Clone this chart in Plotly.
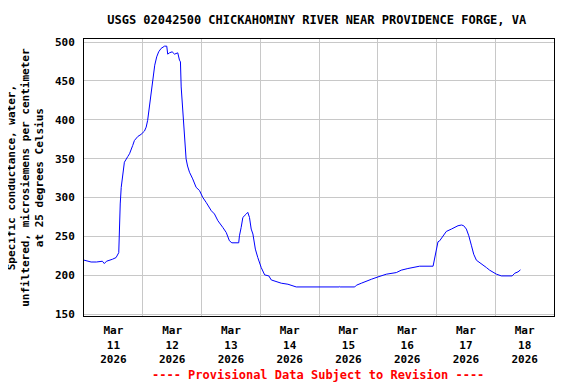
import pandas as pd
import plotly.graph_objects as go

start = pd.Timestamp("2026-03-11 00:00")

# hours since Mar 11 2026 00:00
hours = [0, 2.9, 5.1, 7.5, 8.3, 9.2, 11.6, 13.1, 14.2, 14.5, 14.8, 15.2, 15.6, 16.1, 16.5,
         17.9, 18.6, 19.9, 20.6, 22.0, 23.3, 24.7, 25.4, 26.0, 26.7, 27.1, 27.8, 28.4, 28.9,
         29.7, 30.5, 31.5, 32.9, 33.8, 34.2, 34.9, 36.0, 37.0, 37.7, 38.3, 39.0, 39.4, 39.7,
         40.1, 40.6, 41.2, 41.7, 42.3, 43.1, 44.4, 45.8, 47.2, 48.5, 49.9, 52.0, 53.3, 54.7,
         56.7, 58.1, 59.4, 60.4, 63.2, 63.5, 64.2, 64.9, 66.3, 66.9, 67.6, 68.3, 69.0, 70.0,
         71.0, 72.4, 73.8, 75.5, 76.5, 78.5, 80.6, 83.3, 85.3, 86.7, 104.4, 104.5, 104.7,
         110.6, 111.3, 113.3, 115.3, 117.4, 120.1, 123.5, 127.6, 129.6, 132.3, 134.4, 137.1,
         142.6, 143.3, 144.0, 144.6, 145.3, 146.7, 148.0, 150.1, 151.4, 152.8, 154.2, 155.1,
         156.2, 157.2, 158.3, 159.2, 160.3, 161.7, 163.0, 164.4, 165.7, 167.1, 168.5, 170.5,
         174.9, 176.0, 177.3, 178.3]

conductance = [219.4, 217, 217, 218, 215, 218, 220.5, 222.7, 229, 265.9, 291.7, 313, 324, 339, 345.4,
               352.8, 356.3, 367, 373.4, 378.6, 381.2, 385.5, 390.6, 399.3, 416.4, 429.4, 446.7, 459.6, 470.3,
               481, 487.5, 491.9, 494.8, 494.8, 484.5, 486.2, 487.5, 484.5, 485.4, 486.2, 476.8, 474.6, 442.3,
               425.1, 392.8, 369.2, 349.8, 340.5, 332.5, 324, 313.1, 308.9, 300.2, 293.7, 283, 278.8, 270.1,
               261.5, 255, 244.3, 241.7, 241.7, 250.7, 261.5, 274.4, 278.8, 280.9, 274.4, 259.4, 253, 233.6,
               222.7, 209.8, 200.4, 199.1, 193.9, 191.7, 189.7, 188.4, 186.2, 184.9, 184.9, 185.5, 184.9,
               184.9, 187.1, 189.7, 191.7, 194.8, 197.8, 201.3, 203.4, 206.5, 208.6, 209.8, 211.6,
               211.6, 222.7, 231.4, 243, 244.3, 250.7, 256.3, 259.4, 261.5, 263.7, 264.6, 263.7,
               259.4, 250.7, 237.8, 227, 219.3, 216.3, 212.9, 209.8, 206.5, 203.4, 201.3, 199.1,
               199.1, 202.6, 204.3, 206.9]

times = start + pd.to_timedelta(hours, unit="h")

title_text = "USGS 02042500 CHICKAHOMINY RIVER NEAR PROVIDENCE FORGE, VA"
y_title = "Specific conductance, water,<br>unfiltered, microsiemens per centimeter<br>at 25 degrees Celsius"
footer = "---- Provisional Data Subject to Revision ----"
y_ticks = [150, 200, 250, 300, 350, 400, 450, 500]

FONT = "DejaVu Sans Mono"

fig = go.Figure()
fig.add_trace(go.Scatter(x=times, y=conductance, mode="lines",
                         line=dict(color="#0000FF", width=1), showlegend=False))

# page body has an 8px default margin; margins compensate for that offset
fig.update_layout(
    width=576, height=384,
    margin=dict(l=76, r=30, t=31, b=76),
    paper_bgcolor="white", plot_bgcolor="white",
    font=dict(family=FONT, size=11, color="black", weight="bold"),
    title=dict(text=title_text, x=0.536, xanchor="center", y=0.969, yanchor="middle",
               font=dict(family=FONT, size=12, color="black", weight="bold")),
)

fig.update_xaxes(
    type="date",
    range=["2026-03-11 00:00", "2026-03-19 00:00"],
    tick0="2026-03-11", dtick=86400000,
    ticklabelmode="period", tickformat="%b<br>%d<br>%Y",
    showgrid=True, gridcolor="#C8C8C8", gridwidth=1,
    showline=True, linecolor="black", linewidth=1, mirror=True,
    ticks="", ticklabelstandoff=4,
    tickfont=dict(family=FONT, size=11, color="black", weight="bold"),
    zeroline=False,
)
fig.update_yaxes(
    range=[147.5, 504],
    tickvals=y_ticks,
    showgrid=True, gridcolor="#C8C8C8", gridwidth=1,
    showline=True, linecolor="black", linewidth=1, mirror=True,
    ticks="", ticklabelstandoff=6,
    tickfont=dict(family=FONT, size=11, color="black", weight="bold"),
    zeroline=False,
)

fig.add_annotation(text=y_title, xref="paper", yref="paper",
                   x=-0.125, y=0.5, xanchor="center", yanchor="middle",
                   textangle=-90, showarrow=False, align="center",
                   font=dict(family=FONT, size=11, color="black", weight="bold"))

fig.add_annotation(text=footer, xref="paper", yref="paper",
                   x=0.497, y=-0.213, xanchor="center", yanchor="middle",
                   showarrow=False,
                   font=dict(family=FONT, size=12, color="#FF0000", weight="bold"))

fig.write_html("out.html")
